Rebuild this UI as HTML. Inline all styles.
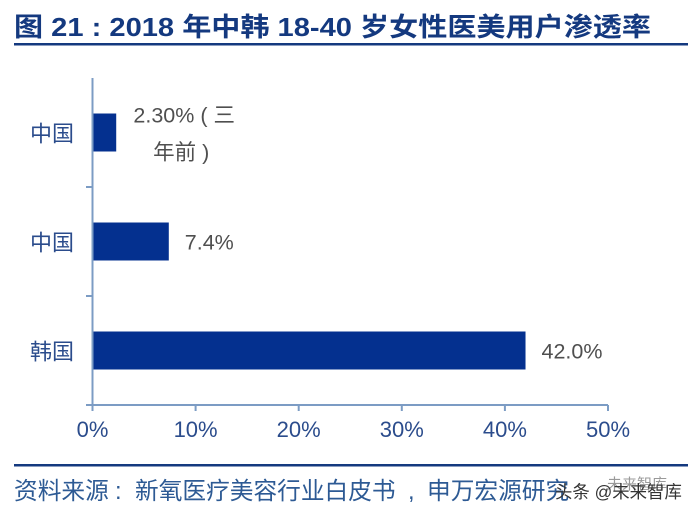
<!DOCTYPE html>
<html lang="zh">
<head>
<meta charset="utf-8">
<title>图 21</title>
<style>
html,body{margin:0;padding:0;background:#fff;}
body{width:694px;height:520px;overflow:hidden;position:relative;font-family:"Liberation Sans","Noto Sans CJK SC",sans-serif;}
svg{position:absolute;left:0;top:0;display:block;filter:blur(0.3px);}
text{font-family:"Liberation Sans","Noto Sans CJK SC",sans-serif;}
</style>
</head>
<body>
<svg id="chart" width="694" height="520" viewBox="0 0 694 520" xmlns="http://www.w3.org/2000/svg">
<text x="14" y="36" font-size="26" font-weight="700" fill="#14397f" textLength="637" lengthAdjust="spacingAndGlyphs">图 21 : 2018 年中韩 18-40 岁女性医美用户渗透率</text>
<rect x="14" y="43" width="674" height="2.5" fill="#14397f"/>
<rect x="14" y="464" width="674" height="2.5" fill="#14397f"/>
<text y="499" font-size="23.7" fill="#2d5a94"><tspan x="14">资料来源</tspan><tspan x="115">:</tspan><tspan x="135">新氧医疗美容行业白皮书</tspan><tspan x="408">,</tspan><tspan x="427">申万宏源研究</tspan></text>
<text x="607" y="489" font-size="15" fill="#999">未来智库</text>
<text x="555" y="498" font-size="17.4" fill="#333">头条 @未来智库</text>
<g id="plot"></g>
</svg>
<script>
var categories = ["中国", "中国", "韩国"];
var seriesValues = [2.3, 7.4, 42.0];
var valueLabels = [["2.30% ( 三", "年前 )"], ["7.4%"], ["42.0%"]];
var xTicks = [0, 10, 20, 30, 40, 50];
var xTickLabels = ["0%", "10%", "20%", "30%", "40%", "50%"];

var NS = "http://www.w3.org/2000/svg";
var plot = document.getElementById("plot");
var X0 = 92.5, X1 = 608, Y0 = 78, Y1 = 405;
function xScale(v) { return X0 + (v - xTicks[0]) / (xTicks[xTicks.length - 1] - xTicks[0]) * (X1 - X0); }
function bandTop(i) { return Y0 + i * (Y1 - Y0) / categories.length; }
function bandCenter(i) { return bandTop(i) + (Y1 - Y0) / categories.length / 2; }
function mk(tag, attrs, txt) {
  var el = document.createElementNS(NS, tag);
  for (var k in attrs) el.setAttribute(k, attrs[k]);
  if (txt !== undefined) el.textContent = txt;
  plot.appendChild(el);
  return el;
}
var axisColor = "#7c9cc4";
var el;
categories.forEach(function (c, i) {
  var cy = bandCenter(i);
  el = mk("rect", {x: X0, y: cy - 19, width: xScale(seriesValues[i]) - X0, height: 38, fill: "#04308f"});
  
  
  el = mk("text", {x: 74, y: cy + 9, "font-size": 22, fill: "#2b4c8c", "text-anchor": "end"}, c);
  
  
  var lines = valueLabels[i];
  var endX = xScale(seriesValues[i]);
  lines.forEach(function (line, j) {
    var isMulti = lines.length > 1;
    var attrs = isMulti
      ? {x: endX + 68 - j * 3, y: cy - 10 + j * 37, "text-anchor": "middle"}
      : {x: endX + 16, y: cy + 8, "text-anchor": "start"};
    attrs["font-size"] = 21.5;
    attrs.fill = "#4f4f4f";
    el = mk("text", attrs, line);
    
    
  });
});
el = mk("line", {x1: X0, y1: Y0, x2: X0, y2: Y1, stroke: axisColor, "stroke-width": 2});


el = mk("line", {x1: 86, y1: Y1, x2: X1, y2: Y1, stroke: axisColor, "stroke-width": 2});


categories.forEach(function (c, i) {
  if (i === 0) return;
  el = mk("line", {x1: 86, y1: bandTop(i), x2: X0, y2: bandTop(i), stroke: axisColor, "stroke-width": 2});
  
  
});
xTicks.forEach(function (t, i) {
  var x = xScale(t);
  el = mk("line", {x1: x, y1: Y1, x2: x, y2: Y1 + 6, stroke: axisColor, "stroke-width": 2});
  
  
  el = mk("text", {x: x, y: 437, "font-size": 22, fill: "#2b4c8c", "text-anchor": "middle"}, xTickLabels[i]);
  
  
});
</script>
</body>
</html>
